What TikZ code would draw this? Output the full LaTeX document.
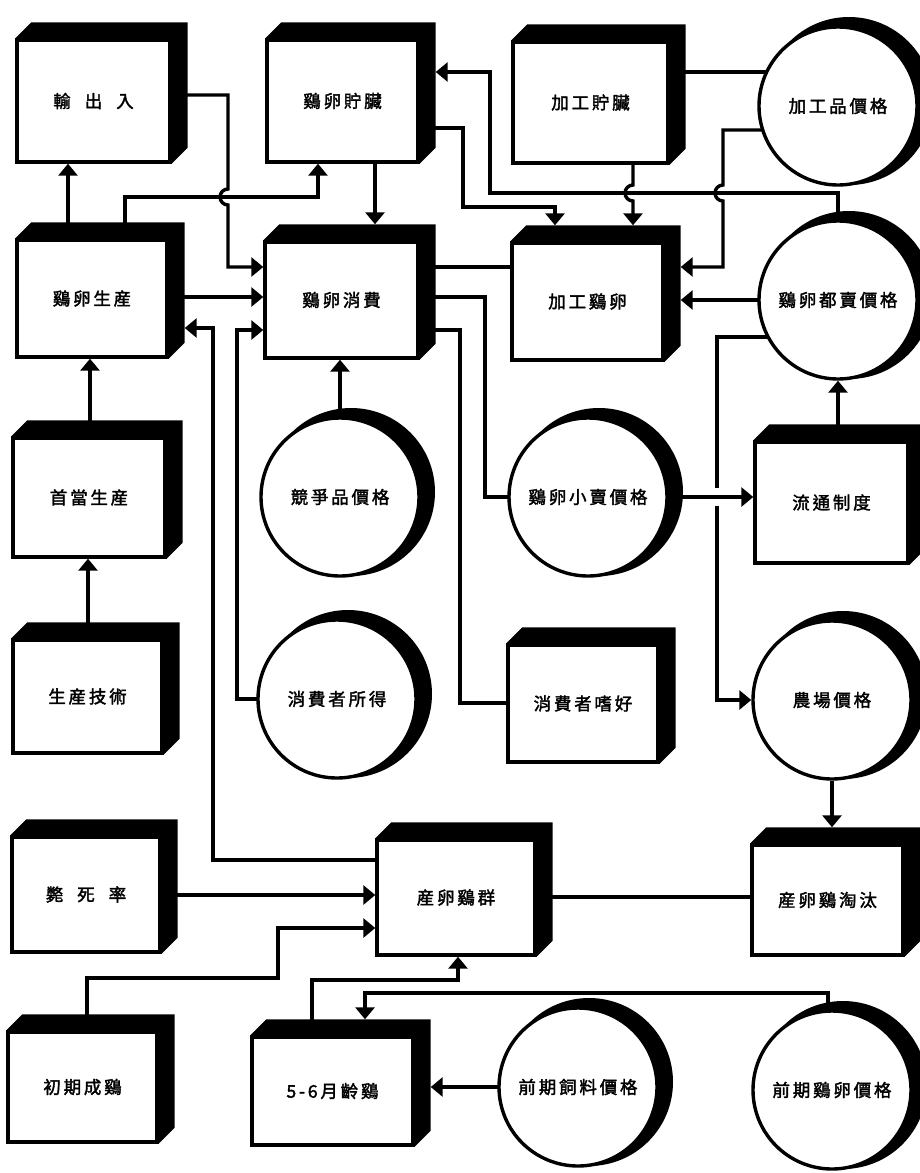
\documentclass[tikz,border=0pt]{standalone}
\usepackage{fontspec}
\newfontfamily\cjk{Noto Sans CJK TC}[FakeBold=2]
\usetikzlibrary{arrows.meta,calc}
\pgfdeclarelayer{bg}
\pgfdeclarelayer{lines}
\pgfsetlayers{bg,lines,main}
\def\cgap{2.8pt}
\def\spc#1{\spcB#1\relax}
\def\spcB#1{#1\spcC}
\def\spcC#1{\ifx\relax#1\else\hspace{\cgap}#1\expandafter\spcC\fi}
\tikzset{
  lbl/.style={font=\cjk\fontsize{17.5}{19}\selectfont},
  cube/.style={lbl, draw, fill=white, line width=3.4pt, rectangle, inner sep=0pt},
  disc/.style={lbl, draw, fill=white, line width=3.4pt, circle, minimum size=158pt, inner sep=0pt},
  conn/.style={line width=3.4pt, line join=miter},
  arr/.style={conn, -{Triangle[width=19pt,length=12pt]}},
}
\begin{document}
\begin{tikzpicture}[x=1pt,y=-1pt]
\useasboundingbox (0,0) rectangle (920,1173);
% boxes
\node[cube, minimum width=153pt, minimum height=122pt] (ex)    at (93.5,101)  {輸\hspace{14pt}出\hspace{14pt}入};
\node[cube, minimum width=151pt, minimum height=122pt] (stor)  at (342.5,101) {\spc{鷄卵貯臟}};
\node[cube, minimum width=155pt, minimum height=121pt] (pst)   at (590.5,102.5) {\spc{加工貯臟}};
\node[cube, minimum width=150pt, minimum height=117pt] (prod)  at (92,298.5)  {\spc{鷄卵生産}};
\node[cube, minimum width=153pt, minimum height=116pt] (cons)  at (341.5,300) {\spc{鷄卵消費}};
\node[cube, minimum width=151pt, minimum height=117pt] (proc)  at (587.5,301.5) {\spc{加工鷄卵}};
\node[cube, minimum width=152pt, minimum height=119pt] (hp)    at (89,497.5)  {\spc{首當生産}};
\node[cube, minimum width=153pt, minimum height=121pt] (dist)  at (831.5,502.5) {\spc{流通制度}};
\node[cube, minimum width=149pt, minimum height=113pt] (tech)  at (87.5,696.5) {\spc{生産技術}};
\node[cube, minimum width=150pt, minimum height=117pt] (pref)  at (583,703.5) {\spc{消費者嗜好}};
\node[cube, minimum width=148pt, minimum height=115pt] (mort)  at (86,894.5)  {斃\hspace{14pt}死\hspace{14pt}率};
\node[cube, minimum width=158pt, minimum height=115pt] (flock) at (456,897.5) {\spc{産卵鷄群}};
\node[cube, minimum width=151pt, minimum height=110pt] (cull)  at (827.5,900) {\spc{産卵鷄淘汰}};
\node[cube, minimum width=149pt, minimum height=110pt] (init)  at (82.5,1087) {\spc{初期成鷄}};
\node[cube, minimum width=161pt, minimum height=108pt] (pul)   at (332.5,1091) {\spc{5-6月齡鷄}};
% circles
\node[disc] (pp)   at (838,106)  {\spc{加工品價格}};
\node[disc] (wp)   at (838,300)  {\spc{鷄卵都賣價格}};
\node[disc] (cp)   at (340,497)  {\spc{競爭品價格}};
\node[disc] (rp)   at (588,497)  {\spc{鷄卵小賣價格}};
\node[disc] (inc)  at (337,699)  {\spc{消費者所得}};
\node[disc] (fp)   at (832,700)  {\spc{農場價格}};
\node[disc] (feed) at (578,1087) {\spc{前期飼料價格}};
\node[disc] (pegg) at (832,1090) {\spc{前期鷄卵價格}};
% shadows
\begin{pgfonlayer}{bg}
  \fill[white] (0,0) rectangle (920,1173);
  \foreach \n in {ex,stor,pst,prod,cons,proc,hp,dist,tech,pref,mort,flock,cull,init,pul}{
    \fill[black] (\n.north west) -- ++(16pt,16pt) -- ([shift={(16pt,16pt)}]\n.north east)
      -- ([shift={(16pt,16pt)}]\n.south east) -- (\n.south east) -- cycle;
    \coordinate (\n-t) at ([yshift=16pt]\n.north);
    \coordinate (\n-r) at ([xshift=16pt]\n.east);
  }
  \foreach \n in {pp,wp,cp,rp,inc,fp,feed,pegg}{
    \fill[black] ([shift={(11pt,5pt)}]\n.center) circle[radius=84pt];
  }
\end{pgfonlayer}
% connectors
\begin{pgfonlayer}{lines}
  \draw[arr] (68,0 |- prod.north) -- (68,0 |- ex.south);
  \draw[arr] (125,0 |- prod.north) |- (318,197) -- (318,0 |- stor.south);
  \draw[arr] (ex.east |- 0,95) -| (228,189) arc[start angle=270,end angle=90,radius=8] |- (cons.west |- 0,267);
  \draw[arr] (375,0 |- stor.south) -- (375,0 |- cons-t);
  \draw[arr] (prod.east |- 0,297) -- (cons.west |- 0,297);
  \draw[arr] (90,0 |- hp.north) -- (90,0 |- prod.south);
  \draw[arr] (88,0 |- tech.north) -- (88,0 |- hp.south);
  \draw[arr] (flock.west |- 0,860) -| (213,328) -- (prod-r |- 0,328);
  \draw[arr] (inc.center) -| (237,330) -- (cons.west |- 0,330);
  \draw[arr] (cp.north) -- (cp.north |- cons.south);
  \draw[conn] (cons.east |- 0,267) -- (proc.west |- 0,267);
  \draw[conn] (cons.east |- 0,297) -| (485,497) -- (rp.center);
  \draw[conn] (cons.east |- 0,330) -| (460,703) -- (pref.west |- 0,703);
  \draw[arr] (stor.east |- 0,128) -| (463,207) -| (555,0 |- proc-t);
  \draw[arr] (wp.center) -- (838,193) -- (490,193) -- (490,72) -- (stor-r |- 0,72);
  \draw[arr] (633,0 |- pst.south) -- (633,185) arc[start angle=270,end angle=90,radius=8] -- (633,0 |- proc-t);
  \draw[conn] (pst.east |- 0,72) -- (pp.center |- 0,72);
  \draw[arr] (pp.center |- 0,130) -| (723,185) arc[start angle=270,end angle=90,radius=8] |- (proc-r |- 0,267);
  \draw[arr] (wp.center) -- (proc-r |- wp.center);
  \draw[arr] (wp.center |- dist.north) -- (wp.south);
  \draw[arr] (rp.center) -- (dist.west |- rp.center);
  \draw[conn] (wp.center |- 0,337) -| (717,488);
  \draw[arr] (717,506) |- (fp.west);
  \draw[arr] (fp.south) -- (fp.south |- cull-t);
  \draw[conn] (flock.east |- 0,897) -- (cull.west |- 0,897);
  \draw[arr] (mort.east |- 0,895) -- (flock.west |- 0,895);
  \draw[arr] (87,0 |- init.north) |- (278,978) |- (flock.west |- 0,928);
  \draw[arr] (312,0 |- pul.north) |- (458,980) -- (458,0 |- flock.south);
  \draw[arr] (828,0 |- pegg.center) |- (365,993) -- (365,0 |- pul-t);
  \draw[arr] (feed.center) -- (pul-r |- feed.center);
\end{pgfonlayer}
\end{tikzpicture}
\end{document}
